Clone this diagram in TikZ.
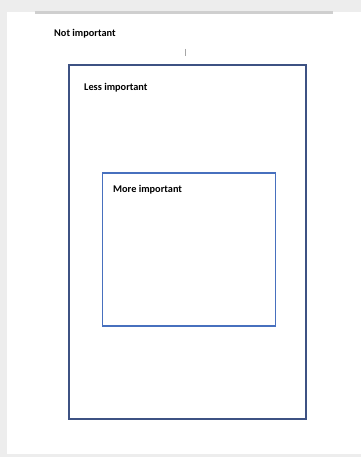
\documentclass[tikz,border=0pt]{standalone}
\usepackage{fontspec}
\setmainfont{Carlito}
\definecolor{bg}{HTML}{EDEDED}
\definecolor{outerblue}{HTML}{3E5283}
\definecolor{innerblue}{HTML}{4770BE}
\definecolor{rule}{HTML}{CFCFCF}
\tikzset{
  lbl/.style={anchor=west, inner sep=0pt, font=\fontsize{10.3}{12}\selectfont\bfseries},
}
\begin{document}
\begin{tikzpicture}[x=1pt,y=-1pt]
\useasboundingbox (0,0) rectangle (361,457);
\fill[bg] (0,0) rectangle (361,457);
\fill[white] (7,12) rectangle (361,454);
\fill[rule] (35,11.5) rectangle (333,14.5);
\node[lbl] (notimp) at (54,34) {Not important};
\draw[gray!70, line width=0.6pt] (185,49) coordinate (c1) -- (185,56) coordinate (c2);
\draw[outerblue, line width=2pt] (69,65) rectangle (306,419);
\node[lbl] (lessimp) at (84,88) {Less important};
\draw[innerblue, line width=1.5pt] (102.5,173) rectangle (275.5,326);
\node[lbl] (moreimp) at (113,190) {More important};
\end{tikzpicture}
\end{document}
